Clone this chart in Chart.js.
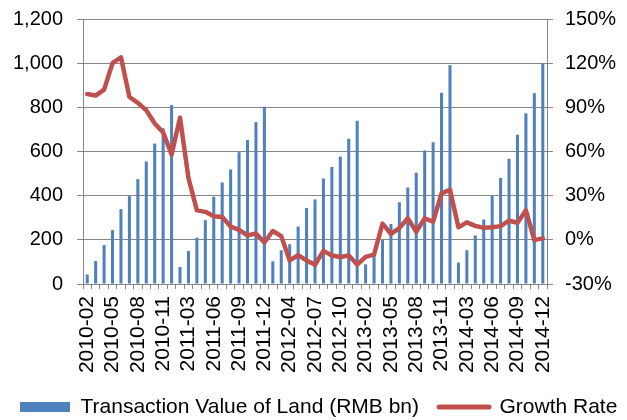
<!DOCTYPE html>
<html>
<head>
<meta charset="utf-8">
<script src="https://cdn.jsdelivr.net/npm/chart.js@4.4.1/dist/chart.umd.min.js"></script>
<style>
  html, body { margin: 0; padding: 0; background: #fff; }
  #wrap { width: 627px; height: 420px; }
</style>
</head>
<body>
<div id="wrap"><canvas id="chart" width="627" height="420"></canvas></div>
<script>
// Months (January is merged into February in the source data)
const months = [
  "2010-02", "2010-03", "2010-04", "2010-05", "2010-06", "2010-07", "2010-08", "2010-09", "2010-10", "2010-11", "2010-12",
  "2011-02", "2011-03", "2011-04", "2011-05", "2011-06", "2011-07", "2011-08", "2011-09", "2011-10", "2011-11", "2011-12",
  "2012-02", "2012-03", "2012-04", "2012-05", "2012-06", "2012-07", "2012-08", "2012-09", "2012-10", "2012-11", "2012-12",
  "2013-02", "2013-03", "2013-04", "2013-05", "2013-06", "2013-07", "2013-08", "2013-09", "2013-10", "2013-11", "2013-12",
  "2014-02", "2014-03", "2014-04", "2014-05", "2014-06", "2014-07", "2014-08", "2014-09", "2014-10", "2014-11", "2014-12"
];

// Transaction value of land, RMB bn (cumulative within the year)
const landValue = [
  43, 104, 176, 244, 339, 398, 475, 555, 636, 705, 810,
  77, 150, 210, 289, 395, 460, 519, 597, 652, 733, 803,
  103, 153, 180, 260, 344, 383, 478, 530, 577, 658, 739,
  89, 140, 199, 272, 370, 437, 504, 605, 642, 866, 991,
  97, 153, 220, 292, 401, 480, 567, 676, 773, 864, 1000
];

// Growth rate, %
const growthRate = [
  99, 98, 102, 120, 124, 97, 93, 88, 79, 73, 58,
  83, 42, 20, 19, 16, 15.5, 9, 6.8, 3, 4.3, -1.8,
  6, 2.5, -14, -10.5, -14, -17, -7.5, -10.6, -11.6, -10.6, -16.8,
  -11.6, -10, 11, 4, 8, 14.6, 5.5, 14.6, 12.3, 31.6, 34,
  8.5, 11.9, 9.5, 8.2, 8.5, 9.3, 13, 11.6, 20, -0.2, 1
];

const gridGray = "#868686";
Chart.defaults.font.family = "'Liberation Sans', Arial, sans-serif";
Chart.defaults.color = "#000";

// fixed axis sizes so the plot box lands where the original has it
const fixWidth = (w) => (scale) => {
  scale.width = w;
  scale.paddingTop = 0;
  scale.paddingBottom = 0;
};

const myChart = new Chart(document.getElementById("chart"), {
  data: {
    labels: months,
    datasets: [
      {
        type: "bar",
        label: "Transaction Value of Land (RMB bn)",
        data: landValue,
        backgroundColor: "#4F81BD",
        barPercentage: 0.4,
        categoryPercentage: 0.9,
        yAxisID: "y",
        order: 2, // drawn under the line
      },
      {
        type: "line",
        label: "Growth Rate",
        data: growthRate,
        borderColor: "#C0504D",
        backgroundColor: "#C0504D",
        borderWidth: 4.5,
        borderJoinStyle: "round",
        borderCapStyle: "round",
        pointRadius: 0,
        tension: 0,
        yAxisID: "y1",
        order: 1,
      },
    ],
  },
  options: {
    responsive: false,
    animation: false,
    layout: { padding: { left: 0, right: -30, top: 19, bottom: -7.5 } },
    plugins: {
      tooltip: { enabled: false },
      legend: {
        position: "bottom",
        align: "start",
        labels: {
          usePointStyle: true,
          pointStyleWidth: 50,
          boxHeight: 10,
          padding: 20,
          color: "#000",
          font: { size: 21 },
          // bar first, then the line; rect for bars, stroke for the line
          generateLabels: (chart) => {
            const items = Chart.defaults.plugins.legend.labels.generateLabels(chart);
            items.sort((a, b) => a.datasetIndex - b.datasetIndex);
            items.forEach((item) => {
              if (item.datasetIndex === 0) {
                item.pointStyle = "rect";
                item.lineWidth = 0;
              } else {
                item.pointStyle = "line";
                item.lineWidth = 5;
                item.lineCap = "round";
                item.strokeStyle = "#C0504D";
              }
            });
            return items;
          },
        },
      },
    },
    scales: {
      x: {
        offset: true,
        grid: { display: true, drawOnChartArea: false, drawTicks: true, tickLength: 5, color: gridGray, offset: true },
        border: { color: gridGray },
        ticks: {
          autoSkip: false,
          minRotation: 90,
          maxRotation: 90,
          padding: 7,
          font: { size: 21 },
          callback: (value, index) => (index % 3 === 0 ? months[index] : ""),
        },
        afterFit: (scale) => { scale.height = 92.5; },
      },
      y: {
        position: "left",
        min: 0,
        max: 1200,
        ticks: {
          stepSize: 200,
          padding: 14,
          font: { size: 20 },
          callback: (value) => value.toLocaleString("en-US"),
        },
        grid: { color: gridGray, tickLength: 6 },
        border: { color: gridGray },
        afterFit: fixWidth(83),
      },
      y1: {
        position: "right",
        min: -30,
        max: 150,
        ticks: {
          stepSize: 30,
          padding: 12,
          font: { size: 20 },
          callback: (value) => value + "%",
        },
        grid: { drawOnChartArea: false, color: gridGray, tickLength: 6 },
        border: { color: gridGray },
        afterFit: fixWidth(110),
      },
    },
  },
});
</script>
</body>
</html>
